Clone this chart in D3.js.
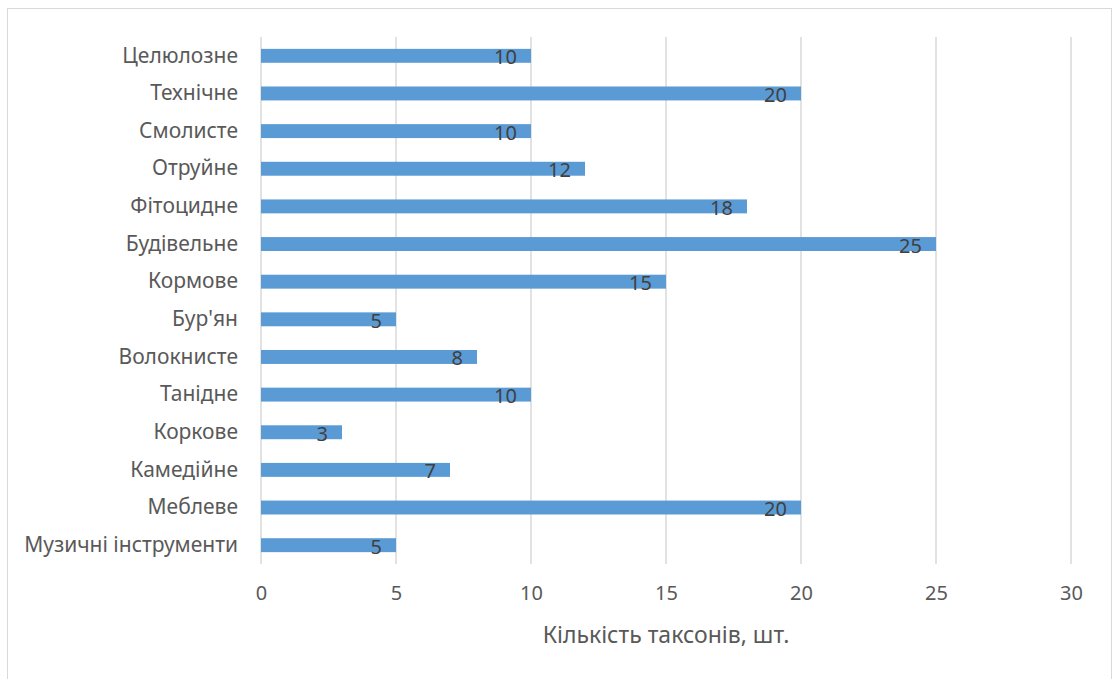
<!DOCTYPE html>
<html><head><meta charset="utf-8">
<script src="https://cdn.jsdelivr.net/npm/d3@7"></script>
<style>
html,body{margin:0;padding:0;background:#fff;}
svg{display:block;}
text{font-family:"Noto Sans","Open Sans",sans-serif;}
</style></head>
<body>
<svg id="chart" width="1113" height="679"></svg>
<script>
const categories = ["Целюлозне","Технічне","Смолисте","Отруйне","Фітоцидне","Будівельне","Кормове","Бур'ян","Волокнисте","Танідне","Коркове","Камедійне","Меблеве","Музичні інструменти"];
const values = [10,20,10,12,18,25,15,5,8,10,3,7,20,5];
const xTicks = [0,5,10,15,20,25,30];
const xTitle = "Кількість таксонів, шт.";

const svg = d3.select("#chart");
const W = 1113, H = 679;
const m = {left:261, right:W-1071, top:37, bottom:H-564};

svg.append("rect").attr("x",7.5).attr("y",8.5).attr("width",1104).attr("height",680)
  .attr("fill","#fff").attr("stroke","#d9d9d9").attr("stroke-width",1);

const x = d3.scaleLinear().domain([0,30]).range([m.left, W-m.right]);
const y = d3.scaleBand().domain(categories).range([m.top, H-m.bottom]).paddingInner(0.63).paddingOuter(0.315);

const data = categories.map((c,i)=>({c, v:values[i]}));

// gridlines
svg.append("g").selectAll("line").data(xTicks).join("line")
  .attr("x1",d=>x(d)).attr("x2",d=>x(d)).attr("y1",m.top).attr("y2",H-m.bottom)
  .attr("stroke","#d9d9d9").attr("stroke-width",1.5);

// bars
svg.append("g").selectAll("rect").data(data).join("rect")
  .attr("x",x(0)).attr("y",d=>y(d.c)).attr("width",d=>x(d.v)-x(0)).attr("height",y.bandwidth())
  .attr("fill","#5b9bd5");

// value labels
svg.append("g").selectAll("text").data(data).join("text")
  .attr("x",d=>x(d.v)-14).attr("y",d=>y(d.c)+y.bandwidth()/2+1)
  .attr("text-anchor","end").attr("dominant-baseline","central")
  .attr("font-size",20).attr("fill","#404040").text(d=>d.v);

// y axis labels
const ya = svg.append("g").attr("transform",`translate(${m.left},0)`)
  .call(d3.axisLeft(y).tickSize(0).tickPadding(23));
ya.select(".domain").remove();
ya.selectAll("text").attr("font-size",21).attr("fill","#595959").attr("font-family","Noto Sans");

// x axis labels
const xa = svg.append("g").attr("transform",`translate(0,${H-m.bottom})`)
  .call(d3.axisBottom(x).tickValues(xTicks).tickSize(0).tickPadding(22));
xa.select(".domain").remove();
xa.selectAll("text").attr("font-size",20).attr("fill","#595959").attr("font-family","Noto Sans");

svg.append("text").attr("x",x(15)).attr("y",643).attr("text-anchor","middle")
  .attr("font-size",23).attr("fill","#595959").text(xTitle);
</script>
</body></html>
